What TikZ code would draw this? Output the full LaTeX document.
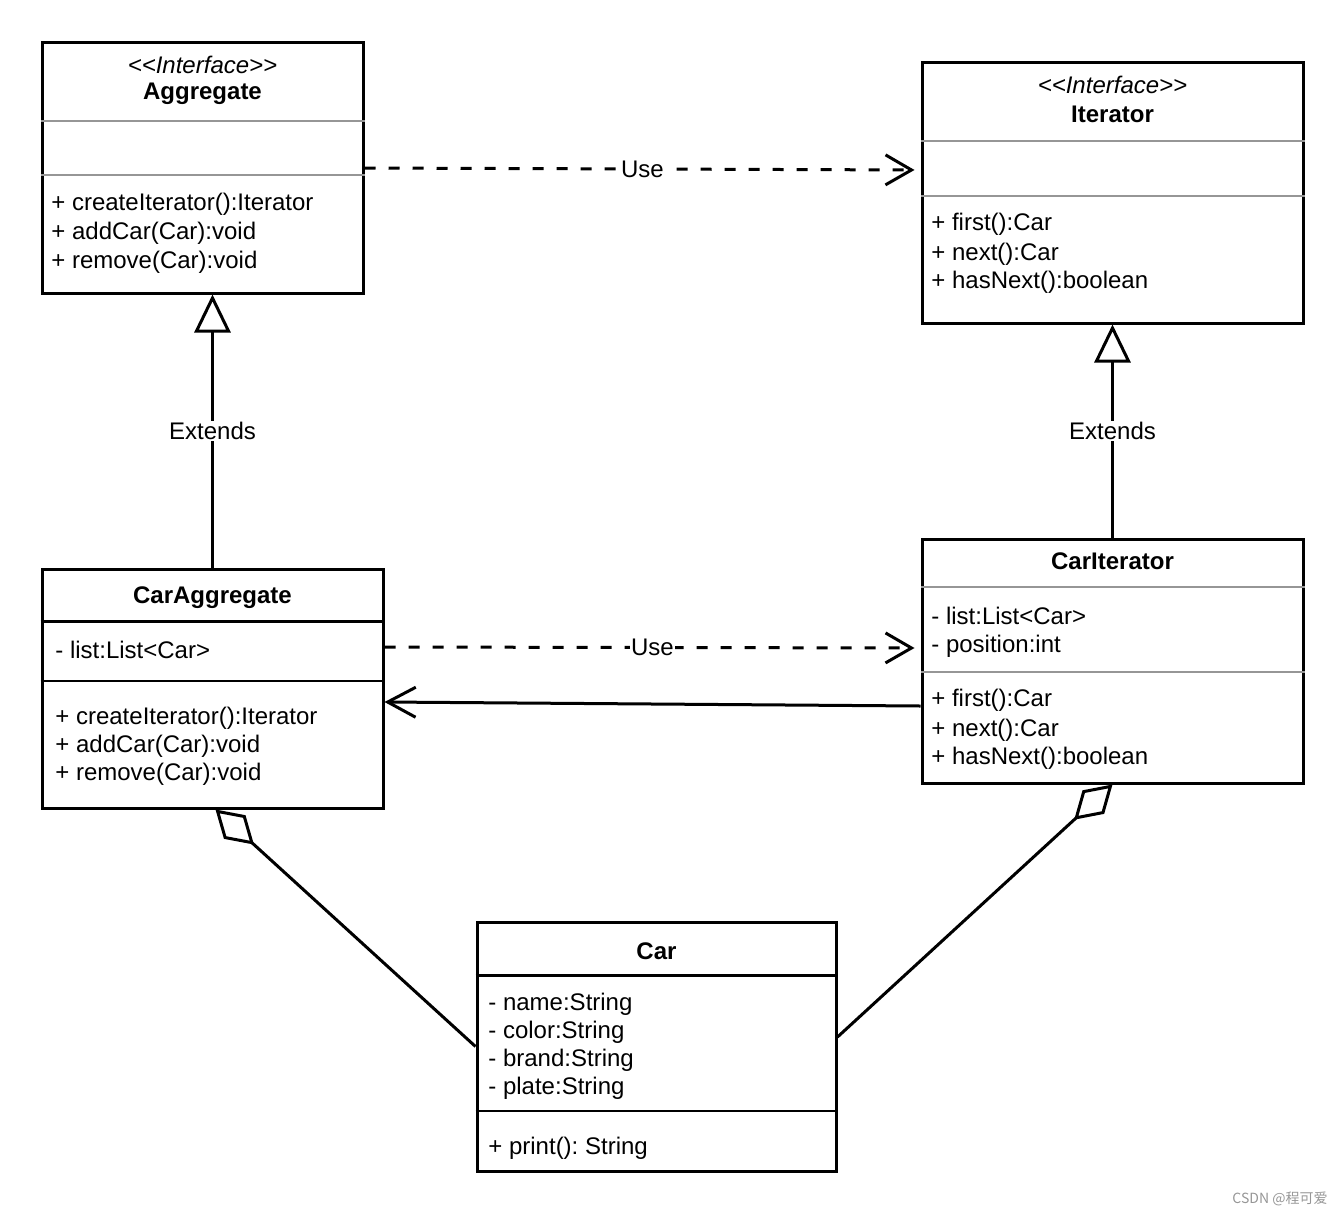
\documentclass[tikz,border=0pt]{standalone}
\usepackage{fontspec}
\setmainfont{Liberation Sans}
\newfontfamily\cjkwm{Noto Sans CJK SC}
\usetikzlibrary{arrows.meta}
\definecolor{divgray}{RGB}{150,150,150}
\definecolor{wmgray}{RGB}{150,150,150}
\frenchspacing
\newcommand{\stereotxt}[1]{<\kern0pt<#1>\kern0pt>}
\begin{document}
\begin{tikzpicture}[x=0.5pt,y=-0.5pt,
  every node/.style={font=\fontsize{12}{14}\selectfont},
  classbox/.style={draw,line width=1.5pt,fill=white,inner sep=0pt},
  txt/.style={anchor=west,inner sep=0pt},
  ttl/.style={inner sep=0pt,font=\fontsize{12}{14}\selectfont\bfseries},
  stereo/.style={inner sep=0pt,font=\fontsize{12}{14}\selectfont\itshape},
  graydiv/.style={draw=divgray,line width=1pt},
  blackdiv/.style={draw=black,line width=1.5pt},
  blackdivthin/.style={draw=black,line width=1pt},
  conn/.style={line width=1.5pt},
  dep/.style={conn,dash pattern=on 5.5pt off 6.5pt,-{Straight Barb[length=13pt,width=15pt]},shorten >=3pt},
  assoc/.style={conn,-{Straight Barb[length=14pt,width=15pt]}},
  gen/.style={conn,-{Triangle[open,length=19pt,width=18pt]}},
  aggr/.style={conn,-{Diamond[open,length=26pt,width=16pt]}},
  lbl/.style={fill=white,inner sep=0.5pt}
]
\useasboundingbox (0,0) rectangle (1344,1216);

% Aggregate
\node[classbox,minimum width=160.5pt,minimum height=125.5pt] (agg) at (202.5,167.5) {};
\draw[graydiv] (agg.west |- 0,121) -- (agg.east |- 0,121);
\draw[graydiv] (agg.west |- 0,175) -- (agg.east |- 0,175);
\node[stereo] (aggs) at (202.5,65) {\stereotxt{Interface}};
\node[ttl] (aggt) at (202.5,94) {Aggregate};
\node[txt] (aggm1) at (51,204) {+ createIterator():Iterator};
\node[txt] (aggm2) at (51,233) {+ addCar(Car):void};
\node[txt] (aggm3) at (51,262) {+ remove(Car):void};

% Iterator
\node[classbox,minimum width=190.5pt,minimum height=130.5pt] (it) at (1112.5,192.5) {};
\draw[graydiv] (it.west |- 0,141) -- (it.east |- 0,141);
\draw[graydiv] (it.west |- 0,196) -- (it.east |- 0,196);
\node[stereo] (its) at (1112.5,85) {\stereotxt{Interface}};
\node[ttl] (itt) at (1112.5,114) {Iterator};
\node[txt] (itm1) at (931,224) {+ first():Car};
\node[txt] (itm2) at (931,254) {+ next():Car};
\node[txt] (itm3) at (931,282) {+ hasNext():boolean};

% CarAggregate
\node[classbox,minimum width=170.5pt,minimum height=119.5pt] (cagg) at (212.5,688.5) {};
\draw[blackdiv] (cagg.west |- 0,621) -- (cagg.east |- 0,621);
\draw[blackdivthin] (cagg.west |- 0,681) -- (cagg.east |- 0,681);
\node[ttl] (caggt) at (212.5,598) {CarAggregate};
\node[txt] (cagga1) at (55,650) {- list:List<Car>};
\node[txt] (caggm1) at (55,718) {+ createIterator():Iterator};
\node[txt] (caggm2) at (55,746) {+ addCar(Car):void};
\node[txt] (caggm3) at (55,774) {+ remove(Car):void};

% CarIterator
\node[classbox,minimum width=190.5pt,minimum height=122pt] (cit) at (1112.5,661) {};
\draw[graydiv] (cit.west |- 0,587) -- (cit.east |- 0,587);
\draw[graydiv] (cit.west |- 0,672) -- (cit.east |- 0,672);
\node[ttl] (citt) at (1112.5,561) {CarIterator};
\node[txt] (cita1) at (931,616) {- list:List<Car>};
\node[txt] (cita2) at (931,646) {- position:int};
\node[txt] (citm1) at (931,700) {+ first():Car};
\node[txt] (citm2) at (931,730) {+ next():Car};
\node[txt] (citm3) at (931,758) {+ hasNext():boolean};

% Car
\node[classbox,minimum width=179.5pt,minimum height=124.5pt] (car) at (656.5,1046.5) {};
\draw[blackdiv] (car.west |- 0,975) -- (car.east |- 0,975);
\draw[blackdivthin] (car.west |- 0,1111) -- (car.east |- 0,1111);
\node[ttl] (cart) at (656.5,951) {Car};
\node[txt] (cara1) at (488,1004) {- name:String};
\node[txt] (cara2) at (488,1032) {- color:String};
\node[txt] (cara3) at (488,1060) {- brand:String};
\node[txt] (cara4) at (488,1088) {- plate:String};
\node[txt] (carm1) at (488,1148) {+ print(): String};

% Connectors
\draw[dep] (agg.east |- 0,168) -- node[lbl] (use1) {Use} (it.west |- 0,170);
\draw[dep] (cagg.east |- 0,647) -- node[lbl] (use2) {Use} (cit.west |- 0,648);
\draw[assoc] (cit.west |- 0,706) -- (cagg.east |- 0,702);
\draw[gen] (cagg.north) -- node[lbl] (ext1) {Extends} (agg.south -| cagg.north);
\draw[gen] (cit.north) -- node[lbl] (ext2) {Extends} (it.south);
\draw[aggr] (car.west) -- ([xshift=1.5pt]cagg.south);
\draw[aggr] (car.east |- 0,1037) -- (cit.south);

% Watermark
\node[inner sep=0pt,text=wmgray,font=\cjkwm\fontsize{7}{8}\selectfont] (wm) at (1280,1199) {CSDN @程可爱};
\end{tikzpicture}
\end{document}
